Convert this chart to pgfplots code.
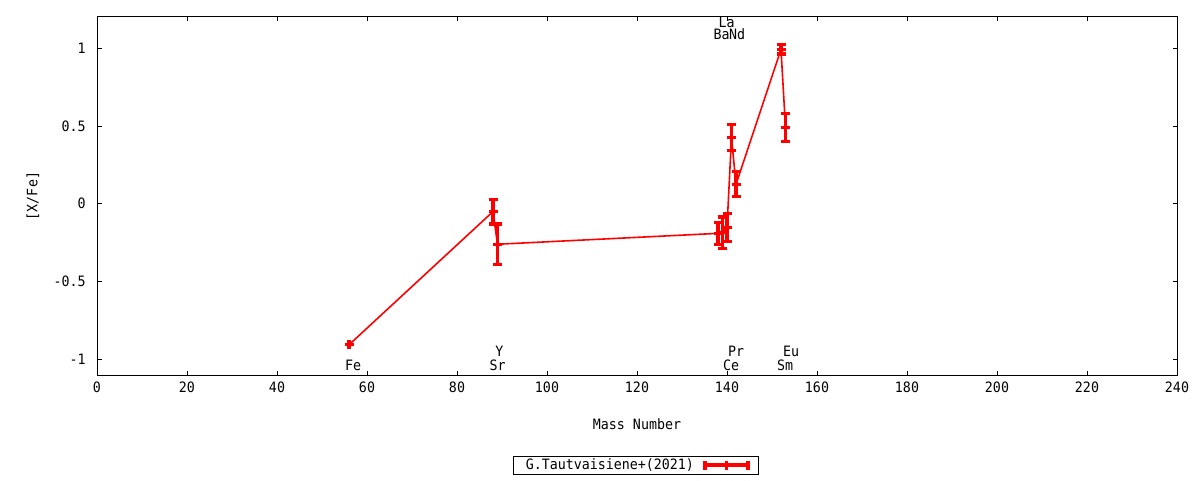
\documentclass[border=0pt]{standalone}
\usepackage{pgfplots}
\pgfplotsset{compat=1.18}
\usepackage{fontspec}
\setmainfont{DejaVu Sans Mono}[FakeStretch=0.93]
\newcommand{\gfont}{\fontsize{14.3pt}{16pt}\selectfont}
\pgfplotstableread{
A v e
56 -0.906 0.0
88 -0.050 0.080
89 -0.260 0.130
138 -0.190 0.072
139 -0.185 0.100
140 -0.152 0.090
141 0.425 0.085
142 0.125 0.080
152 0.992 0.030
153 0.492 0.090
}\datatable
\begin{document}
\gfont
\begin{tikzpicture}[x=1pt,y=1pt]
\useasboundingbox (0,0) rectangle (1200,480);
\begin{axis}[
  at={(97pt,105pt)}, anchor=south west,
  scale only axis, width=1080pt, height=358pt,
  xmin=0, xmax=240, ymin=-1.1, ymax=1.2,
  xtick={0,20,...,240}, ytick={-1,-0.5,0,0.5,1},
  tick align=inside, tick pos=both, major tick length=4.5pt,
  axis line style={line width=1pt},
  every tick/.style={black, line width=0.9pt},
  /pgf/number format/assume math mode=true,
  ticklabel style={font=\gfont},
  xticklabel style={yshift=-2.4pt},
  yticklabel style={xshift=-6.5pt},
  xlabel={Mass Number}, ylabel={[X/Fe]},
  xlabel style={at={(axis description cs:0.5,-0.1369)}, anchor=center, font=\gfont},
  ylabel style={at={(axis description cs:-0.0593,0.5)}, anchor=center, font=\gfont},
  clip=false,
  legend style={at={(axis description cs:0.499,-0.2514)}, anchor=center,
    draw=black, line width=0.8pt, inner xsep=8.5pt, inner ysep=0.5pt,
    font=\gfont, legend plot pos=right, column sep=5pt,
    nodes={inner xsep=4pt, inner ysep=2pt}},
  legend image code/.code={
    \draw[red, line width=4pt] (0pt,0pt) -- (43pt,0pt);
    \draw[red, line width=3.5pt] (0pt,-4.5pt) -- (0pt,4.5pt);
    \draw[red, line width=3.5pt] (21.5pt,-4.5pt) -- (21.5pt,4.5pt);
    \draw[red, line width=3.5pt] (43pt,-4.5pt) -- (43pt,4.5pt);
  },
]
\addplot[red, line width=1.6pt, mark=+, mark size=4.5pt,
  mark options={line width=3.2pt, solid},
  error bars/.cd, y dir=both, y explicit,
  error bar style={line width=3.5pt},
  error mark options={rotate=90, mark size=4.5pt, line width=3.2pt}]
  table[x=A, y=v, y error=e] {\datatable};
\addlegendentry{G.Tautvaisiene+(2021)}
\begin{scope}[every node/.style={anchor=base west, inner sep=0pt, font=\gfont}]
\node at (axis cs:55.1,-1.073) {Fe};
\node at (axis cs:87.2,-1.073) {Sr};
\node at (axis cs:88.5,-0.983) {Y};
\node at (axis cs:139.1,-1.073) {Ce};
\node at (axis cs:140.2,-0.983) {Pr};
\node at (axis cs:151.1,-1.073) {Sm};
\node at (axis cs:152.4,-0.983) {Eu};
\node at (axis cs:137.0,1.056) {Ba};
\node at (axis cs:140.4,1.056) {Nd};
\node at (axis cs:138.1,1.135) {La};
\end{scope}
\end{axis}
\end{tikzpicture}
\end{document}
